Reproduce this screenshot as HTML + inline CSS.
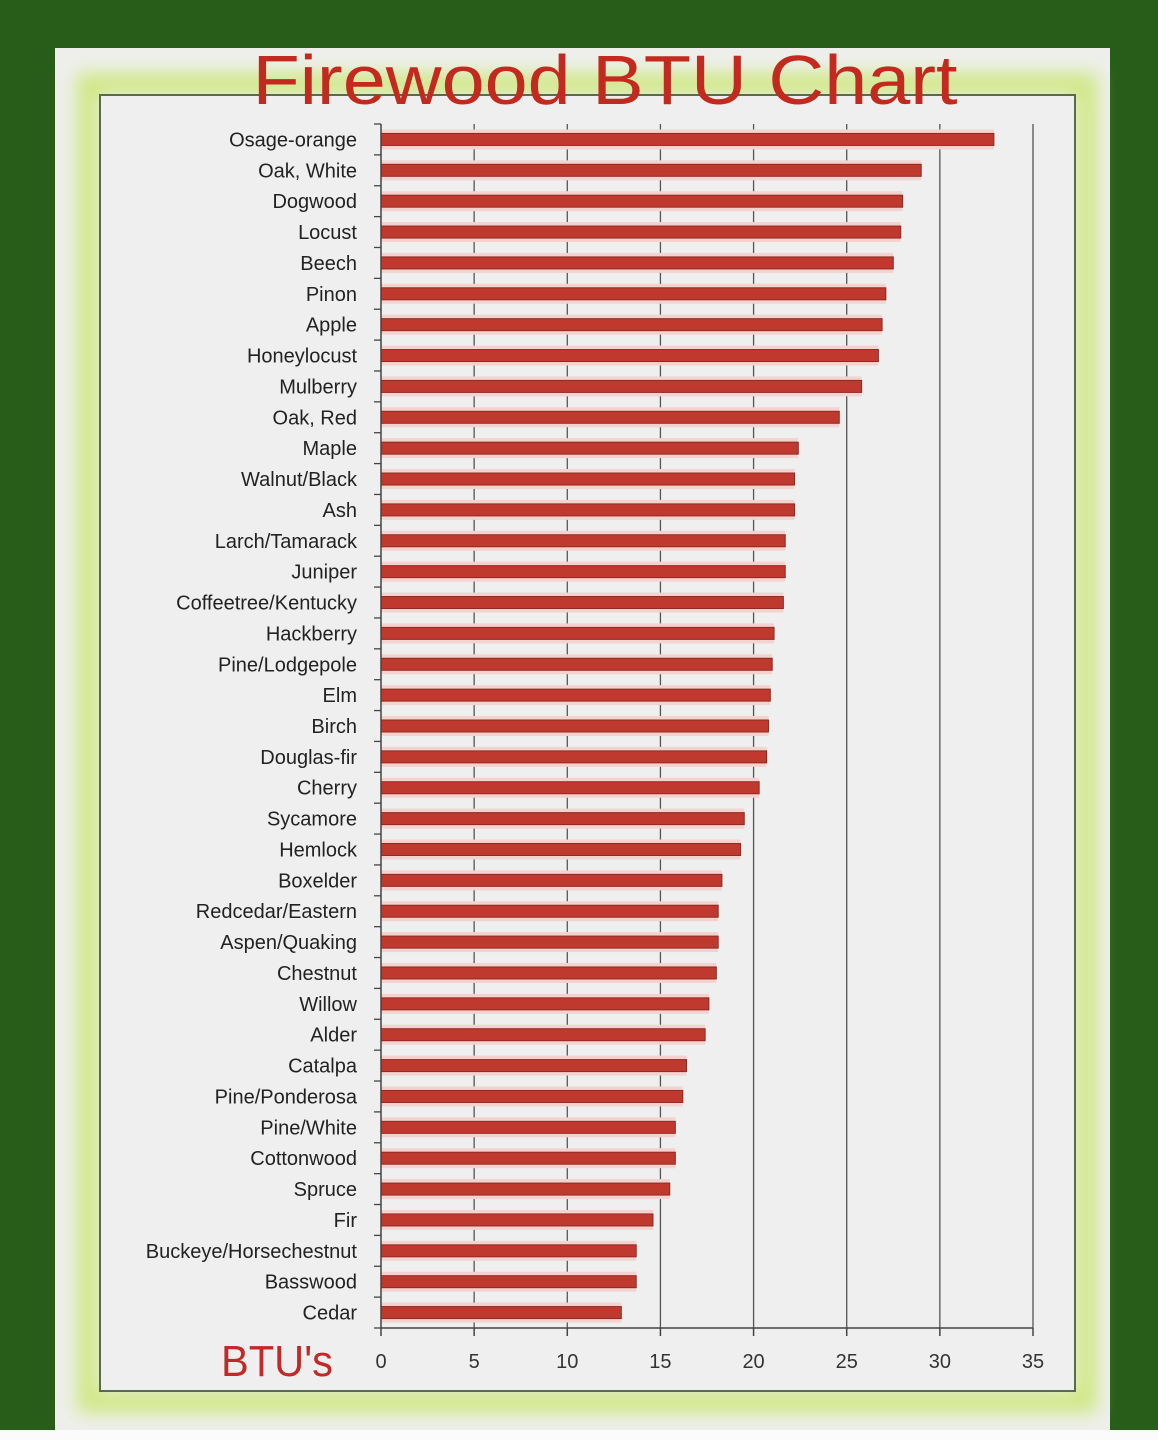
<!DOCTYPE html>
<html><head><meta charset="utf-8"><style>
html,body{margin:0;padding:0;background:#fff}
body{width:1158px;height:1440px;position:relative;overflow:hidden;font-family:"Liberation Sans",sans-serif}
</style></head><body>
<svg id="chart" width="1158" height="1440" xmlns="http://www.w3.org/2000/svg">
<defs>
<filter id="glow" x="-10%" y="-10%" width="120%" height="120%"><feGaussianBlur stdDeviation="9"/></filter>
</defs>
<rect x="0" y="0" width="1158" height="1430" fill="#285c19"/>
<rect x="0" y="1430" width="1158" height="10" fill="#fbfbfb"/>
<rect x="55" y="48" width="1055" height="1382" fill="#eeefec"/>
<rect x="88" y="84" width="998" height="1318" fill="none" stroke="#cfe883" stroke-width="22" filter="url(#glow)"/>
<rect x="100" y="95" width="975" height="1296" fill="#efefef" stroke="#5a6a50" stroke-width="2"/>
<text x="605" y="104" text-anchor="middle" font-size="70" fill="#c22a1f" font-family="Liberation Sans, sans-serif" textLength="705" lengthAdjust="spacingAndGlyphs">Firewood BTU Chart</text>
<text x="277" y="1376" text-anchor="middle" font-size="44" fill="#c22a2a" textLength="112" lengthAdjust="spacingAndGlyphs">BTU's</text>
<g id="grid"></g><g id="bars"></g><g id="labels"></g><g id="ticks"></g>
</svg>
<script>
const categories=["Osage-orange","Oak, White","Dogwood","Locust","Beech","Pinon","Apple","Honeylocust","Mulberry","Oak, Red","Maple","Walnut/Black","Ash","Larch/Tamarack","Juniper","Coffeetree/Kentucky","Hackberry","Pine/Lodgepole","Elm","Birch","Douglas-fir","Cherry","Sycamore","Hemlock","Boxelder","Redcedar/Eastern","Aspen/Quaking","Chestnut","Willow","Alder","Catalpa","Pine/Ponderosa","Pine/White","Cottonwood","Spruce","Fir","Buckeye/Horsechestnut","Basswood","Cedar"];
const values=[32.9,29.0,28.0,27.9,27.5,27.1,26.9,26.7,25.8,24.6,22.4,22.2,22.2,21.7,21.7,21.6,21.1,21.0,20.9,20.8,20.7,20.3,19.5,19.3,18.3,18.1,18.1,18.0,17.6,17.4,16.4,16.2,15.8,15.8,15.5,14.6,13.7,13.7,12.9];
const xTicks=[0,5,10,15,20,25,30,35];
const NS="http://www.w3.org/2000/svg";
const x0=381,x1=1033,xMax=35,yTop=124,yBot=1328;
const xs=v=>x0+(v/xMax)*(x1-x0);
const band=(yBot-yTop)/categories.length;
const yc=i=>yTop+band*(i+0.5);
function mk(tag,attrs,parent){const e=document.createElementNS(NS,tag);for(const k in attrs)e.setAttribute(k,attrs[k]);document.getElementById(parent).appendChild(e);return e;}
xTicks.forEach((t,i)=>{
  if(t>0){const g=mk('line',{x1:xs(t),x2:xs(t),y1:yTop,y2:yBot,stroke:'#555',"stroke-width":1.3},'grid');
  
  }
  const tk=mk('line',{x1:xs(t),x2:xs(t),y1:yBot,y2:yBot+8,stroke:'#444',"stroke-width":1.5},'ticks');
  
  
  const tl=mk('text',{x:xs(t),y:1368,"text-anchor":"middle","font-size":20,fill:'#333'},'ticks');
  tl.textContent=t;
  
  
});
const ax=mk('line',{x1:x0,x2:x0,y1:yTop,y2:yBot,stroke:'#444',"stroke-width":1.5},'ticks');


const bx=mk('line',{x1:x0,x2:x1,y1:yBot,y2:yBot,stroke:'#444',"stroke-width":1.5},'ticks');


for(let i=0;i<=categories.length;i++){
  const t=mk('line',{x1:x0-7,x2:x0,y1:yTop+band*i,y2:yTop+band*i,stroke:'#444',"stroke-width":1.3},'ticks');
  
  
}
categories.forEach((c,i)=>{
  const y=yc(i);
  const s=mk('rect',{x:x0,y:y-10,width:xs(values[i])-x0,height:20,fill:'#f3d2cf'},'bars');
  
  
  const b=mk('rect',{x:x0,y:y-6,width:xs(values[i])-x0,height:12,fill:'#c0392e',stroke:'#8e2a22',"stroke-width":1},'bars');
  
  
  const l=mk('text',{x:357,y:y+7,"text-anchor":"end","font-size":20,fill:'#222'},'labels');
  l.textContent=c;
  
  
});
</script>
</body></html>
